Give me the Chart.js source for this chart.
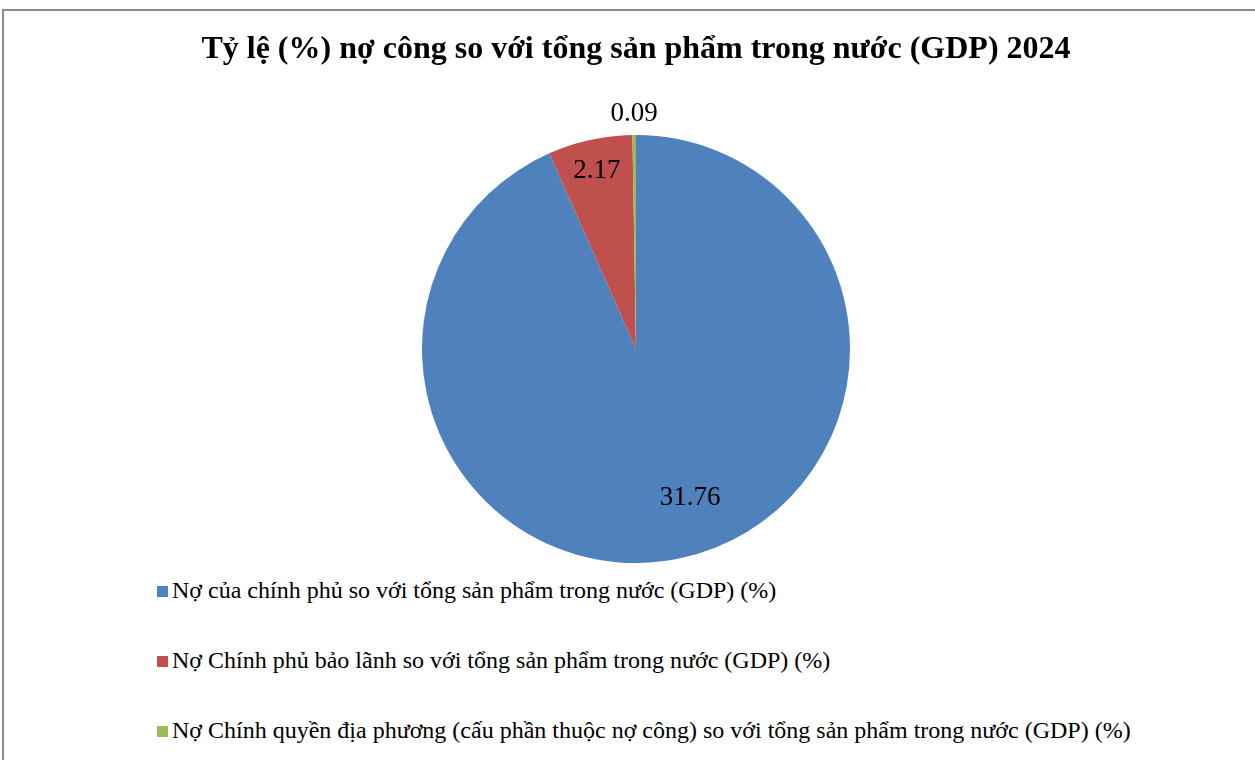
<!DOCTYPE html>
<html>
<head>
<meta charset="utf-8">
<script src="https://cdn.jsdelivr.net/npm/chart.js@4.4.1/dist/chart.umd.min.js"></script>
<style>
    body { margin: 0; width: 1255px; height: 760px; overflow: hidden; background: #fff; position: relative; font-family: "Liberation Serif", "Times New Roman", serif; }
    #frame { position: absolute; left: 2px; top: 9px; width: 1270px; height: 800px; border: 2px solid #8c8c8c; box-sizing: border-box; }
    #wrap { position: absolute; left: 0; top: 0; width: 1255px; height: 563px; }
    #legend { position: absolute; left: 157px; top: 0; }
    .item { position: absolute; white-space: nowrap; font-size: 24px; line-height: 24px; color: #000; }
    .box { display: inline-block; width: 11px; height: 11px; margin-right: 4px; vertical-align: 1px; }
</style>
</head>
<body>
<div id="frame"></div>
<div id="wrap"><canvas id="myChart"></canvas></div>
<div id="legend"></div>
<script>
// Data
const categories = [
    "Nợ của chính phủ so với tổng sản phẩm trong nước (GDP) (%)",
    "Nợ Chính phủ bảo lãnh so với tổng sản phẩm trong nước (GDP) (%)",
    "Nợ Chính quyền địa phương (cấu phần thuộc nợ công) so với tổng sản phẩm trong nước (GDP) (%)"
];
const values = [31.76, 2.17, 0.09];
const colors = ["#4F81BD", "#C0504D", "#9BBB59"];

// label placement: fraction of radius (>1 means outside) and angle nudge in degrees
const labelRadius = [0.74, 0.85, 1.1];
const labelNudge = [-8, 0, 0];

const pieLabels = {
    id: "pieLabels",
    afterDatasetsDraw(chart) {
        const ctx = chart.ctx;
        const meta = chart.getDatasetMeta(0);
        ctx.save();
        ctx.font = "27px 'Liberation Serif'";
        ctx.fillStyle = "#000";
        ctx.textAlign = "center";
        ctx.textBaseline = "middle";
        meta.data.forEach((arc, i) => {
            const mid = (arc.startAngle + arc.endAngle) / 2 + labelNudge[i] * Math.PI / 180;
            const r = arc.outerRadius * labelRadius[i];
            ctx.fillText(values[i].toFixed(2), arc.x + Math.cos(mid) * r, arc.y + Math.sin(mid) * r);
        });
        ctx.restore();
    }
};

const ctx = document.getElementById("myChart").getContext("2d");
new Chart(ctx, {
    type: "pie",
    data: {
        labels: categories,
        datasets: [{
            data: values,
            backgroundColor: colors,
            borderWidth: 0
        }]
    },
    options: {
        responsive: true,
        maintainAspectRatio: false,
        animation: false,
        layout: { padding: { left: 17 } },
        plugins: {
            legend: { display: false },
            tooltip: { enabled: false },
            title: {
                display: true,
                text: "Tỷ lệ (%) nợ công so với tổng sản phẩm trong nước (GDP) 2024",
                color: "#000",
                font: { family: "'Liberation Serif'", size: 32, weight: "bold" },
                padding: { top: 31, bottom: 65.6 }
            }
        }
    },
    plugins: [pieLabels]
});

// Legend
const legend = document.getElementById("legend");
const rowY = [590, 660, 730];
categories.forEach((c, i) => {
    const d = document.createElement("div");
    d.className = "item";
    d.style.top = (rowY[i] - 12) + "px";
    d.innerHTML = '<span class="box" style="background:' + colors[i] + '"></span>' + c;
    legend.appendChild(d);
});
</script>
</body>
</html>
